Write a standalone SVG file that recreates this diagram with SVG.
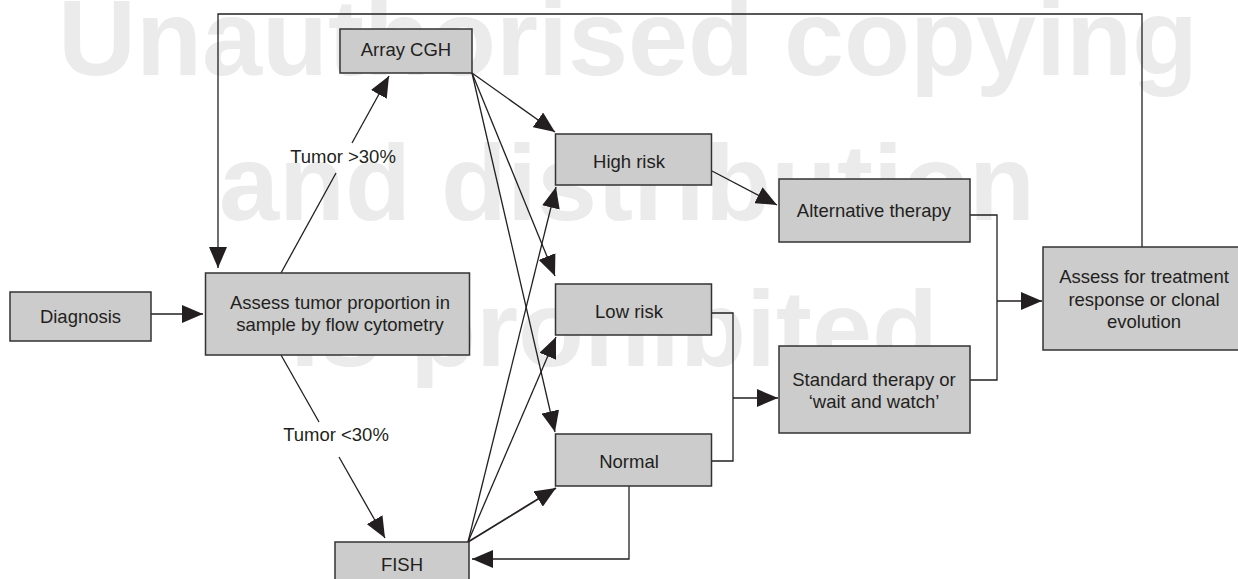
<svg xmlns="http://www.w3.org/2000/svg" width="1238" height="579" viewBox="0 0 1238 579">
<defs>
<style>
.wm{font-family:"Liberation Sans",Arial,sans-serif;font-weight:bold;font-size:108px;fill:#ebebeb}
.box{fill:#cccccc;stroke:#333333;stroke-width:1.5}
.t{font-family:"Liberation Sans",Arial,sans-serif;font-size:18.5px;fill:#231f20;text-anchor:middle}
.ln{fill:none;stroke:#231f20;stroke-width:1.3}
</style>
<marker id="ah" markerUnits="userSpaceOnUse" markerWidth="22" markerHeight="18" refX="21" refY="9" orient="auto">
<path d="M0,0 L21,9 L0,18 z" fill="#231f20"/>
</marker>
</defs>
<rect width="1238" height="579" fill="#ffffff"/>
<g id="watermark">
<text class="wm" x="58" y="75">Unauthorised copying</text>
<text class="wm" x="219" y="220">and distribution</text>
<text class="wm" x="290" y="366">is prohibited</text>
</g>
<g id="connectors">
<path class="ln" d="M1142,247 V14 H218 V268" marker-end="url(#ah)"/>
<path class="ln" d="M151,314 H203" marker-end="url(#ah)"/>
<path class="ln" d="M281,273 L336,173"/>
<path class="ln" d="M352,143 L389,76" marker-end="url(#ah)"/>
<path class="ln" d="M281,355 L319,422"/>
<path class="ln" d="M339,457 L385,538" marker-end="url(#ah)"/>
<path class="ln" d="M472,73 L555,132" marker-end="url(#ah)"/>
<path class="ln" d="M472,73 L555,276" marker-end="url(#ah)"/>
<path class="ln" d="M472,73 L555,432" marker-end="url(#ah)"/>
<path class="ln" d="M468,542 L556,187" marker-end="url(#ah)"/>
<path class="ln" d="M468,542 L556,337" marker-end="url(#ah)"/>
<path class="ln" d="M468,542 L556,488" marker-end="url(#ah)" style="stroke-width:1.8"/>
<path class="ln" d="M629,486 V559 H472" marker-end="url(#ah)"/>
<path class="ln" d="M712,171 L777,205" marker-end="url(#ah)"/>
<path class="ln" d="M712,313 H733 V461 H712"/>
<path class="ln" d="M733,398 H778" marker-end="url(#ah)"/>
<path class="ln" d="M970,215 H997 V380 H970"/>
<path class="ln" d="M997,301 H1042" marker-end="url(#ah)"/>
</g>
<g id="array-cgh">
<rect class="box" x="340" y="29" width="132" height="44"/>
<text class="t" x="406" y="56">Array CGH</text>
</g>
<g id="diagnosis">
<rect class="box" x="10" y="292" width="141" height="49"/>
<text class="t" x="80.5" y="323">Diagnosis</text>
</g>
<g id="assess-tumor">
<rect class="box" x="205.5" y="273" width="264" height="82"/>
<text class="t" x="340" y="309">Assess tumor proportion in</text>
<text class="t" x="340" y="331">sample by flow cytometry</text>
</g>
<g id="label-gt30">
<text class="t" x="343" y="163">Tumor &gt;30%</text>
</g>
<g id="label-lt30">
<text class="t" x="336" y="441">Tumor &lt;30%</text>
</g>
<g id="fish">
<rect class="box" x="335" y="542" width="134" height="45"/>
<text class="t" x="402" y="571">FISH</text>
</g>
<g id="high-risk">
<rect class="box" x="555.5" y="134" width="156" height="51"/>
<text class="t" x="629" y="168">High risk</text>
</g>
<g id="low-risk">
<rect class="box" x="555.5" y="284" width="156" height="51"/>
<text class="t" x="629" y="318">Low risk</text>
</g>
<g id="normal">
<rect class="box" x="555.5" y="434" width="156" height="52"/>
<text class="t" x="629" y="468">Normal</text>
</g>
<g id="alternative-therapy">
<rect class="box" x="779" y="179" width="191" height="63"/>
<text class="t" x="874" y="217">Alternative therapy</text>
</g>
<g id="standard-therapy">
<rect class="box" x="779" y="346" width="191" height="87"/>
<text class="t" x="874" y="386">Standard therapy or</text>
<text class="t" x="874" y="408">‘wait and watch’</text>
</g>
<g id="assess-response">
<rect class="box" x="1043" y="247" width="205" height="103"/>
<text class="t" x="1144" y="283">Assess for treatment</text>
<text class="t" x="1144" y="306">response or clonal</text>
<text class="t" x="1144" y="328">evolution</text>
</g>
</svg>
